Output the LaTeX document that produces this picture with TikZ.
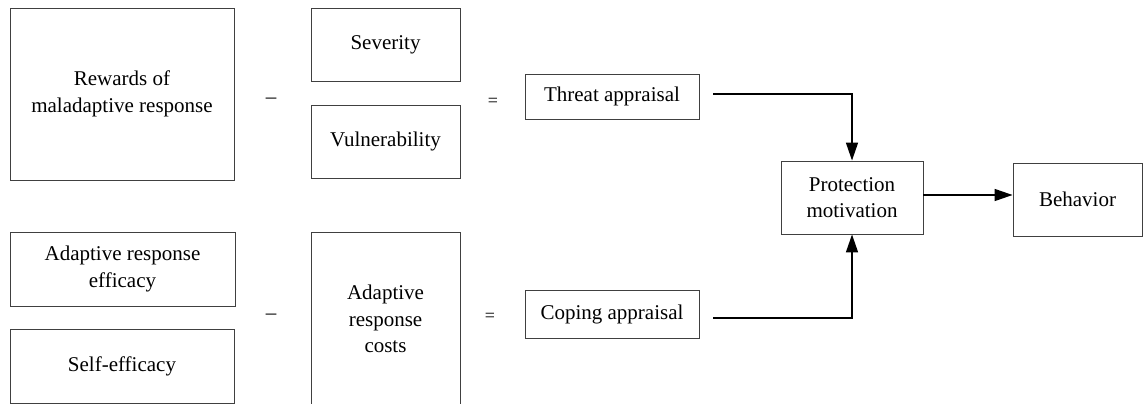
\documentclass[tikz,border=0pt]{standalone}
\usepackage{fontspec}
\setmainfont{Liberation Serif}
\usetikzlibrary{arrows.meta}
\begin{document}
\begin{tikzpicture}[x=1pt,y=-1pt,
  box/.style={draw=black!75, line width=0.9pt, rectangle, inner sep=0pt, align=center,
    font=\fontsize{21}{26.5}\selectfont},
  conn/.style={draw=black, line width=1.5pt, -{Triangle[length=18pt,width=12pt]}},
  op/.style={inner sep=0pt, font=\fontsize{21}{26}\selectfont},
  eq/.style={inner sep=0pt, font=\fontsize{18}{20}\selectfont}]
\useasboundingbox (0,0) rectangle (1143,404);
\clip (0,0) rectangle (1143,404);
\node[box, minimum width=224pt, minimum height=172pt] (rew) at (122,94) {Rewards of\\maladaptive response};
\node[box, minimum width=149pt, minimum height=73pt] (sev) at (385.5,44.5) {Severity};
\node[box, minimum width=149pt, minimum height=73pt] (vul) at (385.5,141.5) {Vulnerability};
\node[box, minimum width=225pt, minimum height=74pt] (are) at (122.5,269) {Adaptive response\\efficacy};
\node[box, minimum width=224pt, minimum height=74pt] (self) at (122,366) {Self-efficacy};
\node[box, minimum width=149pt, minimum height=176pt] (cost) at (385.5,320) {};
\node[align=center, inner sep=0pt, font=\fontsize{21}{26.5}\selectfont] (costt) at (385.5,319) {Adaptive\\response\\costs};
\node[box, minimum width=174pt, minimum height=45pt] (threat) at (612,96.5) {Threat appraisal};
\node[box, minimum width=174pt, minimum height=48pt] (coping) at (612,314) {Coping appraisal};
\node[box, minimum width=142pt, minimum height=73pt] (pm) at (852,197.5) {Protection\\motivation};
\node[box, minimum width=129pt, minimum height=73pt] (beh) at (1077.5,199.5) {Behavior};
\node[op] (m1) at (271,101) {–};
\node[op] (m2) at (271,317) {–};
\node[eq] (e1) at (493,102) {=};
\node[eq] (e2) at (490,317) {=};
\coordinate (t1) at (713,94);
\coordinate (c1) at (713,318);
\draw[conn] (t1) -| (pm.north);
\draw[conn] (c1) -| (pm.south);
\draw[conn] (pm.east |- 0,195) -- (beh.west |- 0,195);
\end{tikzpicture}
\end{document}
